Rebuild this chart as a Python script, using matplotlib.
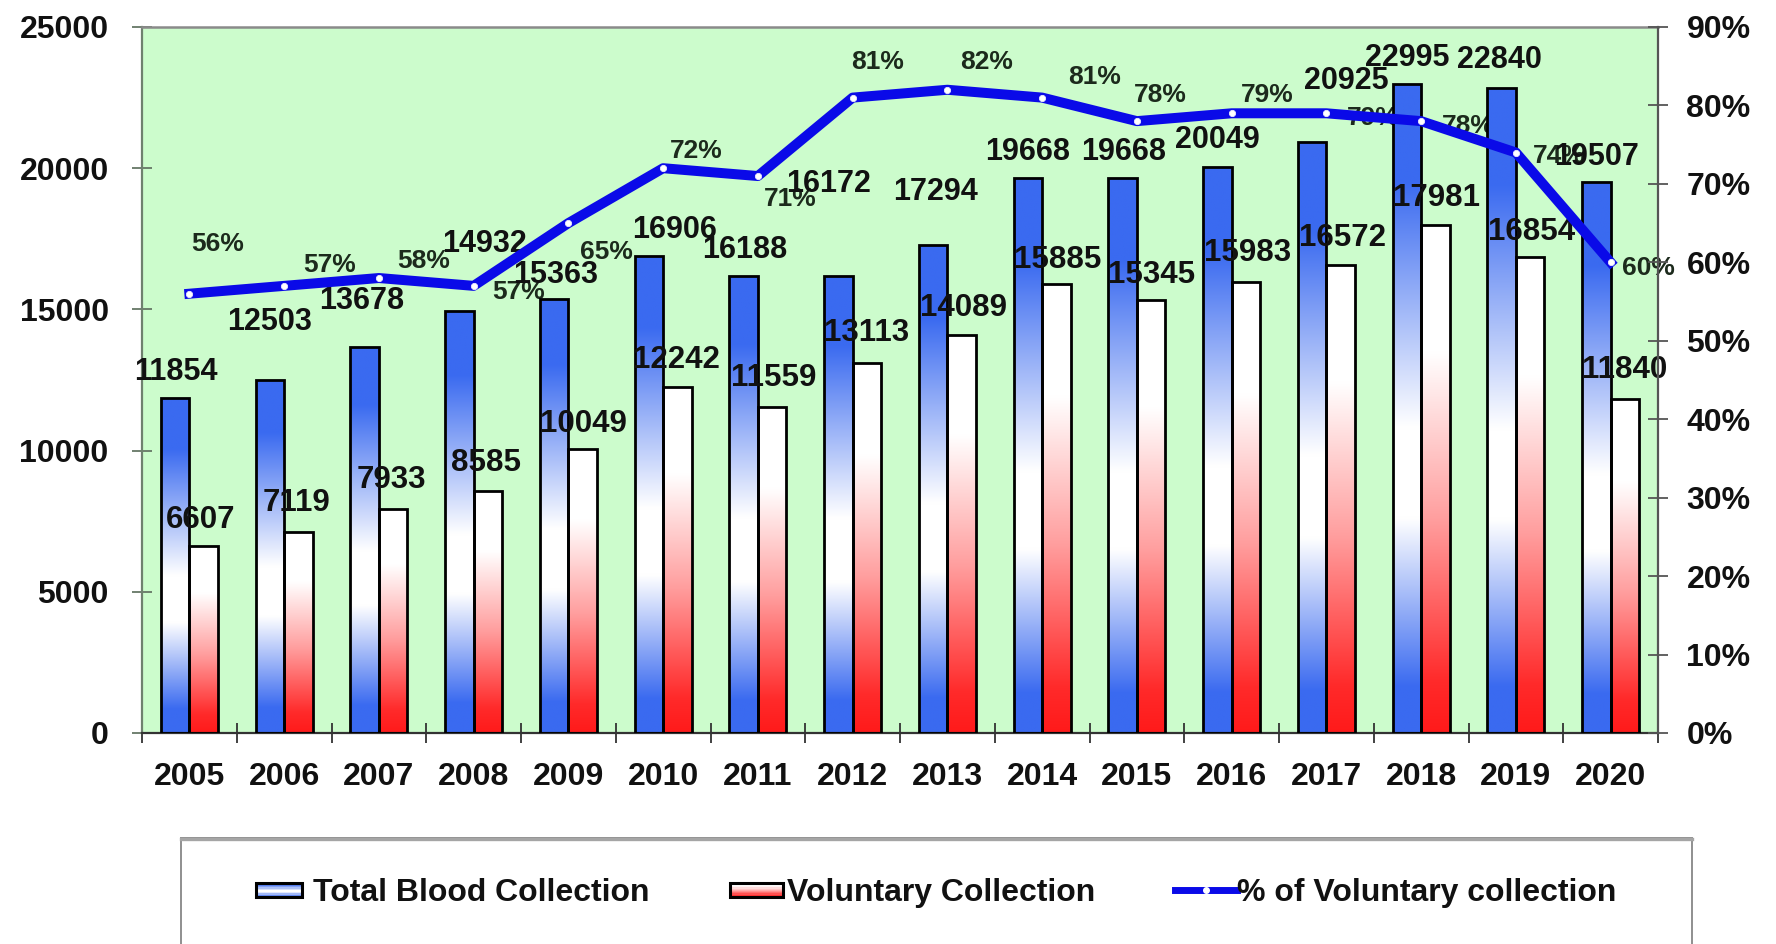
import numpy as np
import matplotlib
matplotlib.use("Agg")
import matplotlib.pyplot as plt
from matplotlib.colors import LinearSegmentedColormap
from matplotlib.patches import Rectangle, Patch
from matplotlib.lines import Line2D
from matplotlib.legend_handler import HandlerBase
from matplotlib.ticker import PercentFormatter, FixedLocator

plt.rcParams['font.family'] = ['Liberation Sans', 'DejaVu Sans']
plt.rcParams['font.weight'] = 'bold'

# ---------------- data ----------------
years = ['2005', '2006', '2007', '2008', '2009', '2010', '2011', '2012',
         '2013', '2014', '2015', '2016', '2017', '2018', '2019', '2020']
total = [11854, 12503, 13678, 14932, 15363, 16906, 16188, 16172,
         17294, 19668, 19668, 20049, 20925, 22995, 22840, 19507]
voluntary = [6607, 7119, 7933, 8585, 10049, 12242, 11559, 13113,
             14089, 15885, 15345, 15983, 16572, 17981, 16854, 11840]
pct = [56, 57, 58, 57, 65, 72, 71, 81, 82, 81, 78, 79, 79, 78, 74, 60]

series_labels = ['Total Blood Collection', 'Voluntary Collection',
                 '% of Voluntary collection']

# label offsets (pixels, dx right / dy up) as placed in the original
total_dx = [1, 0, -3, 25, 1, 26, 1, -10, 2, 0, 1, 0, 34, 0, -2, 0]
total_dy = [30, 61, 49, 71, 28, 29, 29, 96, 56, 29, 29, 30, 65, 29, 31, 29]
vol_dx = [-3, -2, -2, -2, 1, -1, 2, 0, 2, 1, 0, 2, 2, 1, 1, 0]
vol_dy = [30, 32, 32, 31, 29, 31, 32, 33, 31, 28, 28, 32, 31, 31, 29, 32]
pct_dx = [28, 45, 45, 45, 38, 33, 32, 25, 39, 52, 23, 36, 47, 47, 43, 38]
pct_dy = [52, 23, 20, -4, -26, 20, -20, 38, 30, 23, 29, 21, -2, -2, -1, -3]

# ---------------- styles ----------------
W, H = 1776, 944
PX = 0.72  # points per pixel at dpi 100
BLUE_BAR = '#3a6af0'
LINE_BLUE = '#0a0ae8'
GREEN_BG = '#ccfccc'
TXT = '#111111'

blue_cmap = LinearSegmentedColormap.from_list(
    'bluegrad', [(0.0, BLUE_BAR), (0.07, BLUE_BAR), (0.33, '#ffffff'),
                 (0.47, '#ffffff'), (0.85, BLUE_BAR), (1.0, BLUE_BAR)])
red_cmap = LinearSegmentedColormap.from_list(
    'redgrad', [(0.0, '#ff1a1a'), (0.1, '#ff2a2a'), (0.42, '#ff9e9e'),
                (0.75, '#ffffff'), (1.0, '#ffffff')])

fig = plt.figure(figsize=(W / 100, H / 100), dpi=100)
fig.patch.set_facecolor('white')

L, R, T, B = 142, 1658, 27, 733
ax = fig.add_axes([L / W, (H - B) / H, (R - L) / W, (B - T) / H])
ax.set_facecolor(GREEN_BG)

x = np.arange(len(years))
bw = 0.3

bars_t = ax.bar(x - bw / 2, total, width=bw, facecolor='none',
                edgecolor='black', linewidth=2.0, zorder=3)
bars_v = ax.bar(x + bw / 2, voluntary, width=bw, facecolor='none',
                edgecolor='black', linewidth=2.0, zorder=3)

grad = np.linspace(0, 1, 256).reshape(-1, 1)
for bars, cmap in ((bars_t, blue_cmap), (bars_v, red_cmap)):
    for p in bars:
        x0, y0 = p.get_x(), p.get_y()
        im = ax.imshow(grad, extent=(x0, x0 + p.get_width(), y0, y0 + p.get_height()),
                       origin='lower', cmap=cmap, aspect='auto',
                       interpolation='bilinear', zorder=2)
        im.set_clip_path(p)

ax.set_xlim(-0.5, len(years) - 0.5)
ax.set_ylim(0, 25000)
ax.set_yticks(np.arange(0, 25001, 5000))

ax.set_xticks(x)
ax.set_xticklabels(years)
ax.xaxis.set_minor_locator(FixedLocator(np.arange(-0.5, len(years), 1.0)))
ax.tick_params(axis='x', which='major', length=0, pad=21, labelsize=23,
               labelcolor=TXT)
ax.tick_params(axis='x', which='minor', direction='inout', length=15,
               width=1.3, color='#333333')
ax.tick_params(axis='y', direction='inout', length=15, width=1.3,
               color='#667766', pad=16.5, labelsize=23, labelcolor=TXT)

ax.spines['right'].set_visible(False)
ax.spines['left'].set_color('#6f806f')
ax.spines['left'].set_linewidth(1.6)
ax.spines['top'].set_color('#8a8a8a')
ax.spines['top'].set_linewidth(1.8)
ax.spines['bottom'].set_color('#333333')
ax.spines['bottom'].set_linewidth(1.6)

# secondary axis for percent
ax2 = ax.twinx()
ax2.set_ylim(0, 90)
ax2.set_yticks(np.arange(0, 91, 10))
ax2.yaxis.set_major_formatter(PercentFormatter(xmax=100, decimals=0))
ax2.tick_params(axis='y', direction='inout', length=15, width=1.3,
                color='#555555', pad=13, labelsize=23, labelcolor=TXT)
for s in ('left', 'top', 'bottom'):
    ax2.spines[s].set_visible(False)
ax2.spines['right'].set_color('#555555')
ax2.spines['right'].set_linewidth(1.6)

ax2.plot(x, pct, color=LINE_BLUE, linewidth=7.2, solid_joinstyle='round',
         marker='o', markersize=4.5, markerfacecolor='white',
         markeredgecolor='#e8e8ff', markeredgewidth=0.6, zorder=3)

# value labels
for i in range(len(years)):
    ax.annotate(str(total[i]), xy=(x[i] - bw / 2, total[i]),
                xytext=(total_dx[i] * PX, total_dy[i] * PX),
                textcoords='offset points', ha='center', va='center_baseline',
                fontsize=22, fontweight='bold', color=TXT, zorder=5)
    ax.annotate(str(voluntary[i]), xy=(x[i] + bw / 2, voluntary[i]),
                xytext=(vol_dx[i] * PX, vol_dy[i] * PX),
                textcoords='offset points', ha='center', va='center_baseline',
                fontsize=22.5, fontweight='bold', color=TXT, zorder=5)
    ax.annotate(f'{pct[i]}%', xy=(x[i], pct[i]), xycoords=ax2.transData,
                xytext=(pct_dx[i] * PX, pct_dy[i] * PX),
                textcoords='offset points', ha='center', va='center_baseline',
                fontsize=19, fontweight='bold', color='#1c2a1c', zorder=1.5)

# legend frame
fig.add_artist(Rectangle((181 / W, -0.02), (1692 - 181) / W, (H - 838) / H + 0.02,
                         transform=fig.transFigure, facecolor='white',
                         edgecolor='#8f8f8f', linewidth=1.4, zorder=0))
fig.add_artist(Line2D([181 / W, 1692 / W], [1 - 838.5 / H] * 2,
                      transform=fig.transFigure, color='#a5a5a5',
                      linewidth=2.4, zorder=0.5))


class GradientHandler(HandlerBase):
    def __init__(self, cmap, **kw):
        super().__init__(**kw)
        self.cmap = cmap

    def create_artists(self, legend, orig_handle, xdescent, ydescent,
                       width, height, fontsize, trans):
        h = 10.5
        x0 = -xdescent
        y0 = -ydescent + (height - h) / 2
        n = 12
        arts = []
        for k in range(n):
            arts.append(Rectangle((x0, y0 + k * h / n), width, h / n,
                                  facecolor=self.cmap((k + 0.5) / n),
                                  edgecolor='none', transform=trans))
        arts.append(Rectangle((x0, y0), width, h, facecolor='none',
                              edgecolor='black', linewidth=2.2, transform=trans))
        return arts


FS_PX = 23 / 0.72
h_total = Patch()
h_vol = Patch()
h_line = Line2D([], [], color=LINE_BLUE, linewidth=5, marker='o', markersize=4,
                markerfacecolor='white', markeredgecolor='white')
row_y = 1 - 893 / H
legend_specs = [
    (h_total, series_labels[0], 256, 46, 11, {h_total: GradientHandler(blue_cmap)}),
    (h_vol, series_labels[1], 730, 53, 4, {h_vol: GradientHandler(red_cmap)}),
    (h_line, series_labels[2], 1175, 62, 0, None),
]
for hd, lab, xs, hw, gap, hmap in legend_specs:
    kw = dict(handles=[hd], labels=[lab], loc='center left',
              bbox_to_anchor=(xs / W, row_y), frameon=False, borderpad=0,
              borderaxespad=0, handlelength=hw / FS_PX,
              handletextpad=gap / FS_PX, numpoints=1,
              prop={'size': 23, 'weight': 'bold'})
    if hmap is not None:
        kw['handler_map'] = hmap
    leg = fig.legend(**kw)
    for t in leg.get_texts():
        t.set_color(TXT)

fig.savefig('out.png', dpi=100)
